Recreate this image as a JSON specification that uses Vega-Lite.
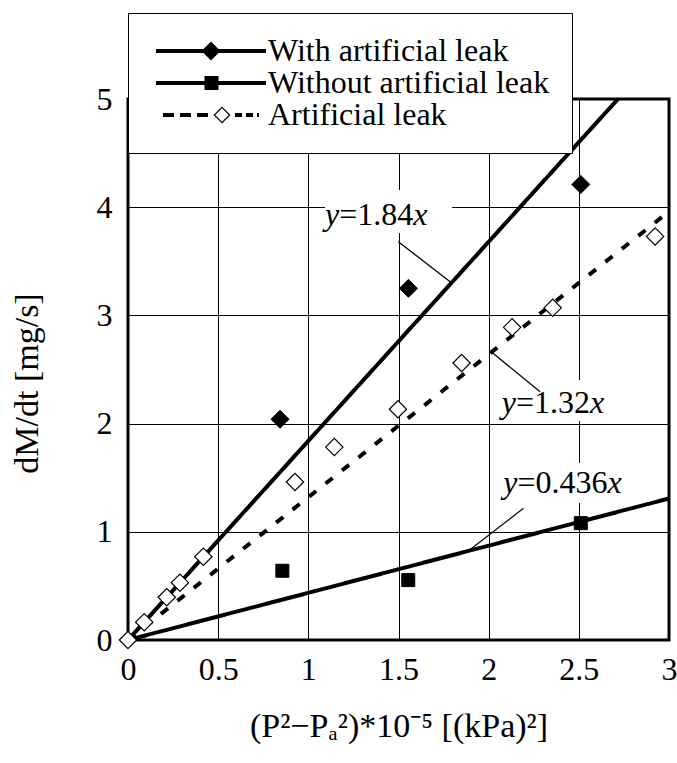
{
  "$schema": "https://vega.github.io/schema/vega-lite/v6.json",
  "width": 541,
  "height": 541,
  "autosize": {"type": "none"},
  "padding": {"left": 128, "top": 99, "right": 8, "bottom": 123},
  "background": "white",
  "datasets": {
    "fits": [
      {"series": "With artificial leak", "x": 0, "y": 0},
      {"series": "With artificial leak", "x": 2.717, "y": 5},
      {"series": "Without artificial leak", "x": 0, "y": 0},
      {"series": "Without artificial leak", "x": 3, "y": 1.308},
      {"series": "Artificial leak", "x": 0, "y": 0},
      {"series": "Artificial leak", "x": 3, "y": 3.96}
    ],
    "points": [
      {"series": "With artificial leak", "x": 0.843, "y": 2.04},
      {"series": "With artificial leak", "x": 1.555, "y": 3.25},
      {"series": "With artificial leak", "x": 2.511, "y": 4.21},
      {"series": "Without artificial leak", "x": 0.856, "y": 0.64},
      {"series": "Without artificial leak", "x": 1.554, "y": 0.554},
      {"series": "Without artificial leak", "x": 2.511, "y": 1.08},
      {"series": "Artificial leak", "x": 0, "y": 0},
      {"series": "Artificial leak", "x": 0.09, "y": 0.165},
      {"series": "Artificial leak", "x": 0.215, "y": 0.395},
      {"series": "Artificial leak", "x": 0.288, "y": 0.53},
      {"series": "Artificial leak", "x": 0.418, "y": 0.77},
      {"series": "Artificial leak", "x": 0.926, "y": 1.46},
      {"series": "Artificial leak", "x": 1.144, "y": 1.783},
      {"series": "Artificial leak", "x": 1.497, "y": 2.133},
      {"series": "Artificial leak", "x": 1.85, "y": 2.56},
      {"series": "Artificial leak", "x": 2.13, "y": 2.89},
      {"series": "Artificial leak", "x": 2.355, "y": 3.07},
      {"series": "Artificial leak", "x": 2.923, "y": 3.73}
    ],
    "boxes": [
      {"x1": 1.093, "x2": 1.797, "y1": 3.762, "y2": 4.159},
      {"x1": 2.035, "x2": 2.673, "y1": 2.024, "y2": 2.403},
      {"x1": 2.063, "x2": 2.757, "y1": 1.266, "y2": 1.636}
    ],
    "leaders": [
      {"x1": 1.499, "y1": 3.681, "x2": 1.795, "y2": 3.30},
      {"x1": 2.017, "y1": 2.66, "x2": 2.285, "y2": 2.295},
      {"x1": 1.887, "y1": 0.823, "x2": 2.193, "y2": 1.217}
    ],
    "labels": [
      {"x": 1.171, "y": 3.928, "num": "=1.84", "w": "short"},
      {"x": 2.152, "y": 2.188, "num": "=1.32", "w": "short"},
      {"x": 2.16, "y": 1.448, "num": "=0.436", "w": "long"}
    ],
    "legendkeys": [
      {"series": "With artificial leak"},
      {"series": "Without artificial leak"},
      {"series": "Artificial leak"}
    ]
  },
  "layer": [
    {
      "data": {"name": "boxes"},
      "mark": {"type": "rect", "fill": "white", "stroke": null},
      "encoding": {
        "x": {"field": "x1", "type": "quantitative", "scale": {"domain": [0, 3], "nice": false, "zero": false},
          "axis": {"values": [0, 0.5, 1, 1.5, 2, 2.5, 3], "format": "~g", "title": "(P²−Pₐ²)*10⁻⁵ [(kPa)²]", "titleFontSize": 34, "labelPadding": 14, "titlePadding": 24, "labelFlush": false, "labelOverlap": false}},
        "x2": {"field": "x2"},
        "y": {"field": "y1", "type": "quantitative", "scale": {"domain": [0, 5], "nice": false, "zero": false},
          "axis": {"values": [0, 1, 2, 3, 4, 5], "format": "d", "title": "dM/dt [mg/s]", "titleFontSize": 34, "titleY": 284, "labelPadding": 16, "titlePadding": 52, "labelFlush": false, "labelOverlap": false}},
        "y2": {"field": "y2"}
      }
    },
    {
      "data": {"name": "fits"},
      "mark": {"type": "line", "color": "black", "strokeWidth": 4, "strokeCap": "butt"},
      "encoding": {
        "x": {"field": "x", "type": "quantitative"},
        "y": {"field": "y", "type": "quantitative"},
        "detail": {"field": "series", "type": "nominal"},
        "strokeDash": {"field": "series", "type": "nominal",
          "scale": {"domain": ["With artificial leak", "Without artificial leak", "Artificial leak"], "range": [[1, 0], [1, 0], [9, 12]]},
          "legend": null}
      }
    },
    {
      "data": {"name": "leaders"},
      "mark": {"type": "rule", "color": "black", "strokeWidth": 1.3},
      "encoding": {
        "x": {"field": "x1", "type": "quantitative"},
        "y": {"field": "y1", "type": "quantitative"},
        "x2": {"field": "x2"},
        "y2": {"field": "y2"}
      }
    },
    {
      "data": {"name": "points"},
      "transform": [{"filter": "datum.series === 'With artificial leak'"}],
      "mark": {"type": "point", "shape": "diamond", "filled": true, "fill": "black", "stroke": "black", "strokeWidth": 1, "opacity": 1, "size": 324},
      "encoding": {
        "x": {"field": "x", "type": "quantitative"},
        "y": {"field": "y", "type": "quantitative"}
      }
    },
    {
      "data": {"name": "points"},
      "transform": [{"filter": "datum.series === 'Without artificial leak'"}],
      "mark": {"type": "point", "shape": "square", "filled": true, "fill": "black", "stroke": "black", "strokeWidth": 1, "opacity": 1, "size": 169},
      "encoding": {
        "x": {"field": "x", "type": "quantitative"},
        "y": {"field": "y", "type": "quantitative"}
      }
    },
    {
      "data": {"name": "points"},
      "transform": [{"filter": "datum.series === 'Artificial leak'"}],
      "mark": {"type": "point", "shape": "diamond", "filled": true, "fill": "white", "stroke": "black", "strokeWidth": 1.2, "opacity": 1, "fillOpacity": 1, "size": 300},
      "encoding": {
        "x": {"field": "x", "type": "quantitative"},
        "y": {"field": "y", "type": "quantitative"}
      }
    },
    {
      "data": {"name": "labels"},
      "mark": {"type": "text", "font": "Liberation Serif, Times New Roman, serif", "fontSize": 32, "fontStyle": "italic", "align": "right", "baseline": "middle", "color": "black"},
      "encoding": {
        "x": {"field": "x", "type": "quantitative"},
        "y": {"field": "y", "type": "quantitative"},
        "text": {"value": "y"}
      }
    },
    {
      "data": {"name": "labels"},
      "mark": {"type": "text", "font": "Liberation Serif, Times New Roman, serif", "fontSize": 32, "align": "left", "baseline": "middle", "color": "black"},
      "encoding": {
        "x": {"field": "x", "type": "quantitative"},
        "y": {"field": "y", "type": "quantitative"},
        "text": {"field": "num"}
      }
    },
    {
      "data": {"name": "labels"},
      "transform": [{"filter": "datum.w === 'short'"}],
      "mark": {"type": "text", "font": "Liberation Serif, Times New Roman, serif", "fontSize": 32, "fontStyle": "italic", "align": "left", "baseline": "middle", "color": "black", "dx": 74},
      "encoding": {
        "x": {"field": "x", "type": "quantitative"},
        "y": {"field": "y", "type": "quantitative"},
        "text": {"value": "x"}
      }
    },
    {
      "data": {"name": "labels"},
      "transform": [{"filter": "datum.w === 'long'"}],
      "mark": {"type": "text", "font": "Liberation Serif, Times New Roman, serif", "fontSize": 32, "fontStyle": "italic", "align": "left", "baseline": "middle", "color": "black", "dx": 90},
      "encoding": {
        "x": {"field": "x", "type": "quantitative"},
        "y": {"field": "y", "type": "quantitative"},
        "text": {"value": "x"}
      }
    },
    {
      "data": {"name": "legendkeys"},
      "mark": {"type": "point", "opacity": 0, "filled": true, "color": "black"},
      "encoding": {
        "shape": {"field": "series", "type": "nominal",
          "scale": {"domain": ["With artificial leak", "Without artificial leak", "Artificial leak"],
            "range": [
              "M-1,-0.2H10V0.2H-1Z M4.5,-0.95L5.45,0L4.5,0.95L3.55,0Z",
              "M-1,-0.2H10V0.2H-1Z M3.85,-0.7H5.25V0.7H3.85Z",
              "M-0.3,-0.2H0.8V0.2H-0.3Z M1.4,-0.2H2.5V0.2H1.4Z M3.1,-0.2H4.2V0.2H3.1Z M5.6,-0.85L6.45,0L5.6,0.85L4.75,0Z M5.6,-0.68L4.92,0L5.6,0.68L6.28,0Z M6.9,-0.2H7.6V0.2H6.9Z M8.0,-0.2H8.7V0.2H8.0Z M9.1,-0.2H9.3V0.2H9.1Z"
            ]},
          "legend": {
            "title": null,
            "orient": "none",
            "legendX": 0,
            "legendY": -86,
            "symbolSize": 400,
            "symbolOpacity": 1,
            "symbolFillColor": "black",
            "symbolStrokeWidth": 0,
            "labelFont": "Liberation Serif, Times New Roman, serif",
            "labelFontSize": 32,
            "labelColor": "black",
            "labelOffset": 86,
            "labelLimit": 0,
            "padding": 22,
            "rowPadding": 0,
            "strokeColor": "black",
            "fillColor": "white",
            "encode": {
              "symbols": {"update": {"fill": {"value": "black"}, "stroke": {"value": "transparent"}, "opacity": {"value": 1}, "fillOpacity": {"value": 1}}},
              "legend": {"update": {"stroke": {"value": "black"}, "strokeWidth": {"value": 3}, "fill": {"value": "white"}}}
            }
          }
        }
      }
    }
  ],
  "resolve": {"scale": {"shape": "independent"}, "legend": {"shape": "independent"}},
  "config": {
    "view": {"stroke": "black", "strokeWidth": 3},
    "axis": {
      "grid": true,
      "gridColor": "black",
      "gridWidth": 1,
      "gridOpacity": 1,
      "domain": false,
      "ticks": false,
      "labelFont": "Liberation Serif, Times New Roman, serif",
      "labelFontSize": 32,
      "labelColor": "black",
      "titleFont": "Liberation Serif, Times New Roman, serif",
      "titleFontSize": 32,
      "titleFontWeight": "normal",
      "titleColor": "black"
    }
  }
}
